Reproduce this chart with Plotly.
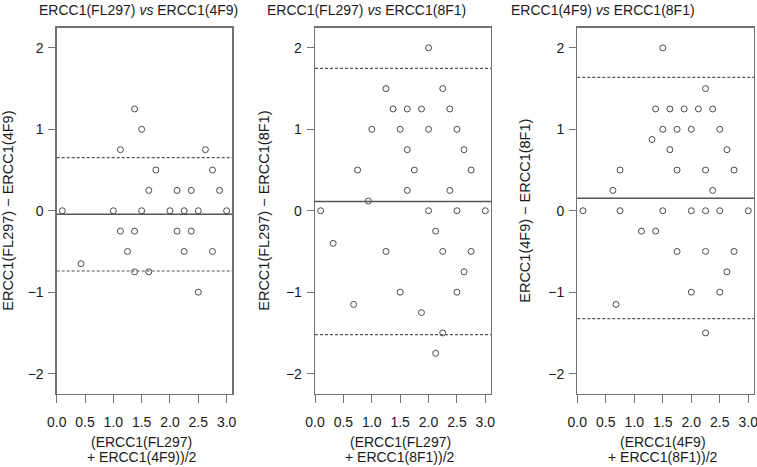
import plotly.graph_objects as go

# ---------------- data ----------------
# Panel 1: ERCC1(FL297) vs ERCC1(4F9)
p1_x = [0.1, 0.43, 1.0, 1.125, 1.125, 1.25, 1.375, 1.375, 1.375, 1.5, 1.5, 1.625, 1.625, 1.75,
        2.0, 2.125, 2.125, 2.25, 2.25, 2.375, 2.375, 2.5, 2.5, 2.625, 2.75, 2.75, 2.875, 3.0]
p1_y = [0.0, -0.65, 0.0, 0.75, -0.25, -0.5, 1.25, -0.25, -0.75, 1.0, 0.0, 0.25, -0.75, 0.5,
        0.0, 0.25, -0.25, 0.0, -0.5, 0.25, -0.25, 0.0, -1.0, 0.75, 0.5, -0.5, 0.25, 0.0]
p1_mean, p1_low, p1_high = -0.043, -0.74, 0.653

# Panel 2: ERCC1(FL297) vs ERCC1(8F1)
p2_x = [2.0, 1.25, 2.25, 1.375, 1.625, 1.875, 2.375, 1.0, 1.5, 2.0, 2.5, 1.625, 2.625,
        0.75, 1.75, 2.75, 1.625, 2.375, 0.94, 0.1, 2.0, 2.5, 3.0, 2.125, 0.32,
        1.25, 2.25, 2.75, 2.625, 1.5, 2.5, 0.68, 1.875, 2.25, 2.125]
p2_y = [2.0, 1.5, 1.5, 1.25, 1.25, 1.25, 1.25, 1.0, 1.0, 1.0, 1.0, 0.75, 0.75,
        0.5, 0.5, 0.5, 0.25, 0.25, 0.12, 0.0, 0.0, 0.0, 0.0, -0.25, -0.4,
        -0.5, -0.5, -0.5, -0.75, -1.0, -1.0, -1.15, -1.25, -1.5, -1.75]
p2_mean, p2_low, p2_high = 0.115, -1.522, 1.748

# Panel 3: ERCC1(4F9) vs ERCC1(8F1)
p3_x = [1.5, 2.25, 1.375, 1.625, 1.875, 2.125, 2.375, 1.5, 1.75, 2.0, 2.5, 1.31, 1.625, 2.625,
        0.75, 1.75, 2.25, 2.75, 0.625, 2.375, 0.1, 0.75, 1.5, 2.0, 2.25, 2.5, 3.0,
        1.125, 1.375, 1.75, 2.25, 2.75, 2.625, 2.0, 2.5, 0.68, 2.25]
p3_y = [2.0, 1.5, 1.25, 1.25, 1.25, 1.25, 1.25, 1.0, 1.0, 1.0, 1.0, 0.875, 0.75, 0.75,
        0.5, 0.5, 0.5, 0.5, 0.25, 0.25, 0.0, 0.0, 0.0, 0.0, 0.0, 0.0, 0.0,
        -0.25, -0.25, -0.5, -0.5, -0.5, -0.75, -1.0, -1.0, -1.15, -1.5]
p3_mean, p3_low, p3_high = 0.155, -1.325, 1.637

titles = ["ERCC1(FL297) <i>vs</i> ERCC1(4F9)",
          "ERCC1(FL297) <i>vs</i> ERCC1(8F1)",
          "ERCC1(4F9) <i>vs</i> ERCC1(8F1)"]
y_titles = ["ERCC1(FL297) \u2212 ERCC1(4F9)",
            "ERCC1(FL297) \u2212 ERCC1(8F1)",
            "ERCC1(4F9) \u2212 ERCC1(8F1)"]
x_titles_line1 = ["(ERCC1(FL297)", "(ERCC1(FL297)", "(ERCC1(4F9)"]
x_titles_line2 = ["+ ERCC1(4F9))/2", "+ ERCC1(8F1))/2", "+ ERCC1(8F1))/2"]
x_ticks = [0.0, 0.5, 1.0, 1.5, 2.0, 2.5, 3.0]
x_ticktext = ["0.0", "0.5", "1.0", "1.5", "2.0", "2.5", "3.0"]
y_ticks = [-2, -1, 0, 1, 2]
y_ticktext = ["\u22122", "\u22121", "0", "1", "2"]

panels = [(p1_x, p1_y, p1_mean, p1_low, p1_high),
          (p2_x, p2_y, p2_mean, p2_low, p2_high),
          (p3_x, p3_y, p3_mean, p3_low, p3_high)]

# ---------------- layout geometry (pixels) ----------------
W, H = 757, 467
box_px = [(56.7, 232.3), (315.0, 491.0), (577.3, 754.0)]
box_top, box_bot = 27.5, 394.0
title_cx = [138.0, 366.0, 603.0]
ytitle_cx = [8.0, 264.0, 525.0]
xtitle_dx = -3.0

FONT = "Liberation Sans, Arial, Helvetica, sans-serif"
TXT = "#1a1a1a"
GRAY = "#707070"

fig = go.Figure()
shapes = []
annotations = []

for i, (xs, ys, m, lo, hi) in enumerate(panels):
    n = "" if i == 0 else str(i + 1)
    fig.add_trace(go.Scatter(
        x=xs, y=ys, mode="markers", xaxis="x" + n, yaxis="y" + n,
        marker=dict(symbol="circle-open", size=6, color="#4a4a4a", line=dict(width=1)),
        showlegend=False, hoverinfo="skip"))
    dom_x = [box_px[i][0] / W, box_px[i][1] / W]
    dom_y = [1 - box_bot / H, 1 - box_top / H]
    common = dict(showline=True, mirror=True, linecolor=GRAY, linewidth=1.3,
                  ticks="outside", tickwidth=1, tickcolor=GRAY,
                  showgrid=False, zeroline=False, automargin=False,
                  ticklabeloverflow="allow",
                  tickfont=dict(family=FONT, size=14, color=TXT))
    fig.update_layout(**{
        "xaxis" + n: dict(domain=dom_x, range=[0, 3.1], anchor="y" + n,
                          tickvals=x_ticks, ticktext=x_ticktext,
                          ticklen=8, ticklabelstandoff=7, **common),
        "yaxis" + n: dict(domain=dom_y, range=[-2.25, 2.25], anchor="x" + n,
                          tickvals=y_ticks, ticktext=y_ticktext,
                          ticklen=7, ticklabelstandoff=2, **common),
    })
    # mean line
    shapes.append(dict(type="line", xref="x" + n + " domain", x0=0, x1=1,
                       yref="y" + n, y0=m, y1=m,
                       line=dict(color="#555555", width=1.5)))
    for v in (lo, hi):
        shapes.append(dict(type="line", xref="x" + n + " domain", x0=0, x1=1,
                           yref="y" + n, y0=v, y1=v,
                           line=dict(color="#555555", width=1.2, dash="3px,2px")))
    cx = ((box_px[i][0] + box_px[i][1]) / 2 + xtitle_dx) / W
    annotations.append(dict(text=titles[i], x=title_cx[i] / W, y=1 - 10 / H,
                            xref="paper", yref="paper", xanchor="center", yanchor="middle",
                            showarrow=False, font=dict(family=FONT, size=14, color=TXT)))
    annotations.append(dict(text=x_titles_line1[i], x=cx, y=1 - 441.5 / H,
                            xref="paper", yref="paper", xanchor="center", yanchor="middle",
                            showarrow=False, font=dict(family=FONT, size=14, color=TXT)))
    annotations.append(dict(text=x_titles_line2[i], x=cx, y=1 - 457 / H,
                            xref="paper", yref="paper", xanchor="center", yanchor="middle",
                            showarrow=False, font=dict(family=FONT, size=14, color=TXT)))
    annotations.append(dict(text=y_titles[i], x=ytitle_cx[i] / W,
                            y=1 - (box_top + box_bot) / 2 / H, textangle=-90,
                            xref="paper", yref="paper", xanchor="center", yanchor="middle",
                            showarrow=False, font=dict(family=FONT, size=14.5, color=TXT)))

fig.update_layout(template="none", width=W, height=H,
                  margin=dict(l=0, r=0, t=0, b=0, pad=0, autoexpand=False),
                  paper_bgcolor="white", plot_bgcolor="white",
                  shapes=shapes, annotations=annotations, showlegend=False)

fig.write_html("out.html", config={"displayModeBar": False, "staticPlot": True},
               post_script="document.body.style.margin='0px';document.body.style.overflow='hidden';")
